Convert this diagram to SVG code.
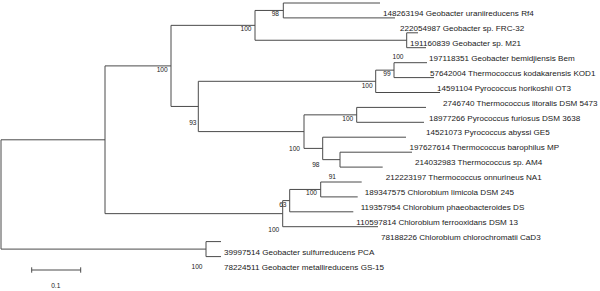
<svg xmlns="http://www.w3.org/2000/svg" width="600" height="291" viewBox="0 0 600 291">
<style>
.br{fill:none;stroke:#4a4a4a;stroke-width:1}
.tx{font-family:"Liberation Sans",Arial,sans-serif;font-size:8.1px;fill:#1a1a1a}
.bs{font-family:"Liberation Sans",Arial,sans-serif;font-size:6.6px;fill:#1a1a1a;text-anchor:end}
.sc{font-family:"Liberation Sans",Arial,sans-serif;font-size:6.6px;fill:#1a1a1a;text-anchor:middle}
</style>
<rect width="600" height="291" fill="#ffffff"/>
<g id="connectors">
<path class="br" d="M105 139.8 H1 V249.1 H206"/>
<path class="br" d="M171 65.9 H105 V213.65 H282.7"/>
<path class="br" d="M255 25.35 H171 V106.45 H198.3"/>
<path class="br" d="M283.3 10.45 H255 V40.25 H406.7"/>
<path class="br" d="M380 3 H283.3 V17.9 H395"/>
<path class="br" d="M418 32.8 H406.7 V47.7 H426"/>
<path class="br" d="M375.7 81.3 H198.3 V131.6 H304"/>
<path class="br" d="M394 70.15 H375.7 V92.5 H440"/>
<path class="br" d="M427 62.7 H394 V77.6 H434"/>
<path class="br" d="M356.7 114.85 H304 V148.4 H322.7"/>
<path class="br" d="M426 107.4 H356.7 V122.3 H424"/>
<path class="br" d="M406 137.2 H322.7 V159.65 H340"/>
<path class="br" d="M412 152.2 H340 V167.1 H382.7"/>
<path class="br" d="M289.7 200.6 H282.7 V226.7 H378"/>
<path class="br" d="M320.7 189.45 H289.7 V211.8 H353.3"/>
<path class="br" d="M361.7 182 H320.7 V196.9 H357.7"/>
<path class="br" d="M221 241.6 H206 V256.6 H221"/>
</g>
<g id="leaf0"><text class="tx" x="383" y="16.2">148263194 Geobacter uraniireducens Rf4</text></g>
<g id="leaf1"><text class="tx" x="400" y="31.1">222054987 Geobacter sp. FRC-32</text></g>
<g id="leaf2"><text class="tx" x="410" y="46">191160839 Geobacter sp. M21</text></g>
<g id="leaf3"><text class="tx" x="429" y="60.9">197118351 Geobacter bemidjiensis Bem</text></g>
<g id="leaf4"><text class="tx" x="430" y="75.8">57642004 Thermococcus kodakarensis KOD1</text></g>
<g id="leaf5"><text class="tx" x="437" y="90.7">14591104 Pyrococcus horikoshii OT3</text></g>
<g id="leaf6"><text class="tx" x="443" y="105.6">2746740 Thermococcus litoralis DSM 5473</text></g>
<g id="leaf7"><text class="tx" x="429" y="120.5">18977266 Pyrococcus furiosus DSM 3638</text></g>
<g id="leaf8"><text class="tx" x="426" y="135.4">14521073 Pyrococcus abyssi GE5</text></g>
<g id="leaf9"><text class="tx" x="409.5" y="150.3">197627614 Thermococcus barophilus MP</text></g>
<g id="leaf10"><text class="tx" x="415" y="165.2">214032983 Thermococcus sp. AM4</text></g>
<g id="leaf11"><text class="tx" x="385.7" y="180.1">212223197 Thermococcus onnurineus NA1</text></g>
<g id="leaf12"><text class="tx" x="364.7" y="195">189347575 Chlorobium limicola DSM 245</text></g>
<g id="leaf13"><text class="tx" x="360.7" y="209.9">119357954 Chlorobium phaeobacteroides DS</text></g>
<g id="leaf14"><text class="tx" x="356.3" y="224.8">110597814 Chlorobium ferrooxidans DSM 13</text></g>
<g id="leaf15"><text class="tx" x="381" y="239.7">78188226 Chlorobium chlorochromatii CaD3</text></g>
<g id="leaf16"><text class="tx" x="224" y="254.6">39997514 Geobacter sulfurreducens PCA</text></g>
<g id="leaf17"><text class="tx" x="224" y="269.5">78224511 Geobacter metallireducens GS-15</text></g>
<g id="nodeB"><text class="bs" x="167.7" y="72.4">100</text></g>
<g id="nodeC"><text class="bs" x="251.5" y="31.4">100</text></g>
<g id="nodeD"><text class="bs" x="279" y="16.4">98</text></g>
<g id="nodeE"><text class="bs" x="403.5" y="58.9">100</text></g>
<g id="nodeF"><text class="bs" x="196.5" y="125.1">93</text></g>
<g id="nodeJ"><text class="bs" x="372.7" y="87.7">100</text></g>
<g id="nodeL"><text class="bs" x="390.7" y="76.4">99</text></g>
<g id="nodeM"><text class="bs" x="353.3" y="120.7">100</text></g>
<g id="nodeK"><text class="bs" x="300" y="150.6">100</text></g>
<g id="nodeN"><text class="bs" x="319.5" y="167.4">98</text></g>
<g id="nodeO"><text class="bs" x="336" y="178.9">91</text></g>
<g id="nodeI"><text class="bs" x="317" y="195.4">100</text></g>
<g id="nodeH"><text class="bs" x="286.5" y="206.7">63</text></g>
<g id="nodeG"><text class="bs" x="279.3" y="232.4">100</text></g>
<g id="nodeP"><text class="bs" x="202.5" y="268.7">100</text></g>
<g id="scalebar">
<path class="br" d="M31.7 270 H80.7 M31.7 267.3 V272.7 M80.7 267.3 V272.7"/>
<text class="sc" x="55.8" y="288.2">0.1</text>
</g>
</svg>
